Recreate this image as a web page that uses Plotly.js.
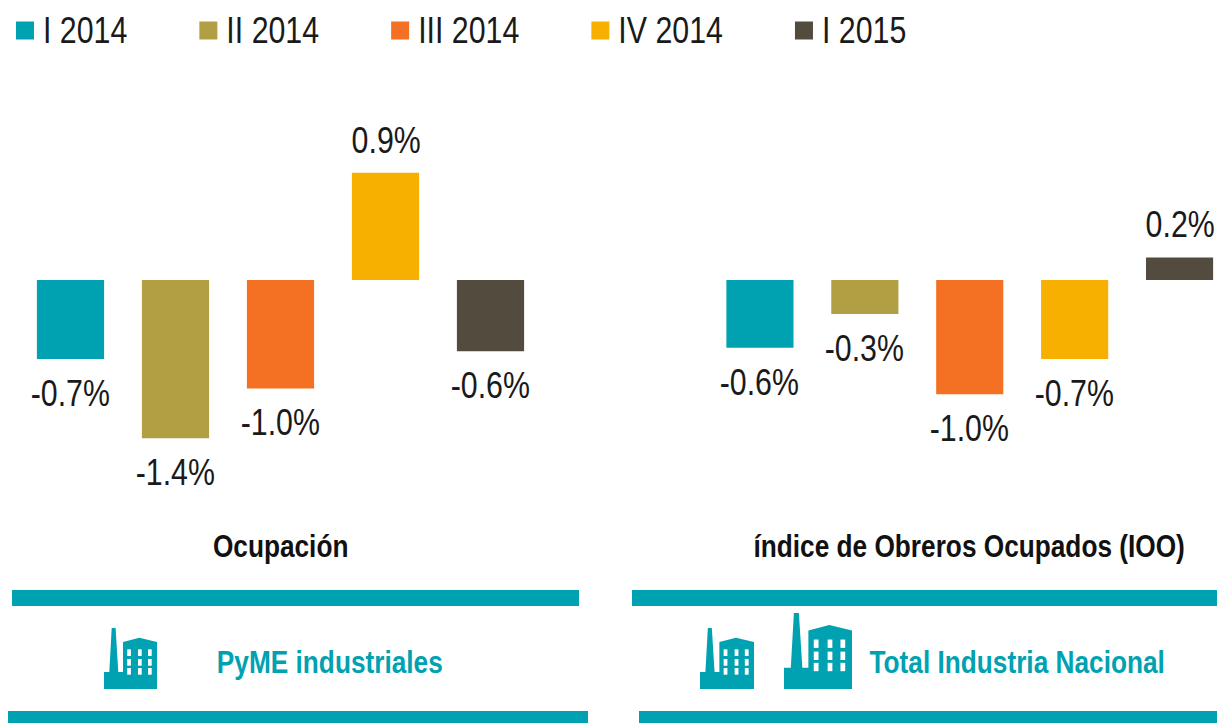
<!DOCTYPE html>
<html><head><meta charset="utf-8">
<script src="https://cdn.plot.ly/plotly-3.0.1.min.js"></script>
<style>html,body{margin:0;padding:0;background:#fff}#c{width:1217px;height:723px}</style>
</head><body><div id="c"></div>
<script>
const periods = ['I 2014','II 2014','III 2014','IV 2014','I 2015'];
const colors = ['#00A2B1','#B39F43','#F47023','#F7B000','#544B3F'];
const pymeValues = [-0.70,-1.40,-0.96,0.95,-0.63];
const pymeLabels = ['-0.7%','-1.4%','-1.0%','0.9%','-0.6%'];
const iooValues = [-0.60,-0.30,-1.01,-0.70,0.20];
const iooLabels = ['-0.6%','-0.3%','-1.0%','-0.7%','0.2%'];
const teal = '#00A2B1';
const W = 1217, H = 723;
const font = 'Liberation Sans, Arial, sans-serif';
const squeeze = 0.82;
const px = v => v / W, py = v => 1 - v / H;

function barTrace(vals, labels, xa, ya) {
  return {type:'bar', x:periods, y:vals, hovertext:labels, hoverinfo:'x+text', cliponaxis:false,
    marker:{color:colors, line:{width:0}}, xaxis:xa, yaxis:ya, showlegend:false};
}
const legendTraces = periods.map((p,i)=>({type:'scatter', mode:'markers', x:[p], y:[null], name:p,
  marker:{symbol:'square',size:16,color:colors[i],line:{width:2,color:colors[i]}}}));

function valueLabels(vals, labels, xa, ya){
  return vals.map((v,i)=>({text:labels[i],x:periods[i],y:v,xref:xa,yref:ya,showarrow:false,
    xanchor:'center',yanchor:v<0?'top':'bottom',yshift:v<0?-12:10,
    font:{family:font,size:37,color:'#1a1a1a'}}));
}
function band(x0,x1,y0,y1){return {type:'rect',xref:'paper',yref:'paper',x0:px(x0),x1:px(x1),y0:py(y1),y1:py(y0),fillcolor:teal,line:{width:0},layer:'below'};}

function factorySvg(){
  const win=[];
  [23.2,34,44].forEach(x=>[21.3,31,40].forEach(y=>win.push(`<rect x="${x}" y="${y}" width="3.7" height="6.7" fill="#fff"/>`)));
  return 'data:image/svg+xml;utf8,'+encodeURIComponent(
   `<svg xmlns="http://www.w3.org/2000/svg" width="53" height="61" viewBox="0 0 53 61" preserveAspectRatio="none"><path fill="${teal}" d="M0 44H5.3L7.7 0H11.6L14.3 44H19V14L35.3 9.7L53 14V61H0Z"/>${win.join('')}</svg>`);
}
const icon = factorySvg();
function img(x0,y0,w,h){return {source:icon,xref:'paper',yref:'paper',x:px(x0),y:py(y0),sizex:w/W,sizey:h/H,sizing:'stretch',xanchor:'left',yanchor:'top',layer:'above'};}
function ann(text,xc,yc,size,color){return {text:text,xref:'paper',yref:'paper',x:px(xc),y:py(yc),xanchor:'center',yanchor:'middle',showarrow:false,font:{family:font,size:size,color:color,weight:'bold'}};}

const yRange=[-443/113,280/113];
const layout={
  width:W,height:H,margin:{l:0,r:0,t:0,b:0},paper_bgcolor:'#fff',plot_bgcolor:'#fff',
  barmode:'overlay',bargap:0.36,
  xaxis:{domain:[px(18),px(543)],range:[-0.5,4.5],visible:false,type:'category',categoryarray:periods},
  xaxis2:{domain:[px(707.5),1],range:[-0.5,4.357],visible:false,type:'category',categoryarray:periods,anchor:'y2'},
  yaxis:{domain:[0,1],range:yRange,visible:false},
  yaxis2:{domain:[0,1],range:yRange,visible:false,anchor:'x2'},
  showlegend:true,
  legend:{orientation:'h',x:0,y:1,xanchor:'left',yanchor:'top',font:{family:font,size:37,color:'#1a1a1a'},itemclick:false,itemdoubleclick:false,bgcolor:'rgba(0,0,0,0)'},
  shapes:[band(12,579,590,606),band(632,1217,590,606),band(8,588,711,723),band(639,1217,711,723)],
  images:[img(104,628,53,61),img(700,628,54,61),img(784,613,68,76)],
  annotations:[
    ...valueLabels(pymeValues,pymeLabels,'x','y'),
    ...valueLabels(iooValues,iooLabels,'x2','y2'),
    ann('Ocupación',280,546,32,'#111'),
    ann('índice de Obreros Ocupados (IOO)',969,546,32,'#111'),
    ann('PyME industriales',330,662,32,teal),
    ann('Total Industria Nacional',1017,662,32,teal)
  ]
};
Plotly.newPlot('c',[barTrace(pymeValues,pymeLabels,'x','y'),barTrace(iooValues,iooLabels,'x2','y2'),...legendTraces],layout,{displayModeBar:false}).then(gd=>{
  // the reference face is condensed: narrow the real text glyphs
  gd.querySelectorAll('.annotation-text').forEach(t=>{
    t.style.transformBox='fill-box'; t.style.transformOrigin='center'; t.style.transform=`scaleX(${squeeze})`;
  });
  let x = 5;
  const sb = gd.querySelector('.legend .scrollbox'); if (sb) sb.removeAttribute('clip-path');
  gd.querySelectorAll('.legend .traces').forEach(g=>{
    const t = g.querySelector('.legendtext');
    const len = t.getComputedTextLength()*squeeze;
    t.style.transformBox='fill-box'; t.style.transformOrigin='left center';
    t.style.transform=`translate(-2px,-2px) scaleX(${squeeze})`;
    const y = g.getAttribute('transform').match(/,\s*([-\d.]+)/)[1];
    g.setAttribute('transform',`translate(${x},${y})`);
    x += len + 99;
  });
});
</script></body></html>
